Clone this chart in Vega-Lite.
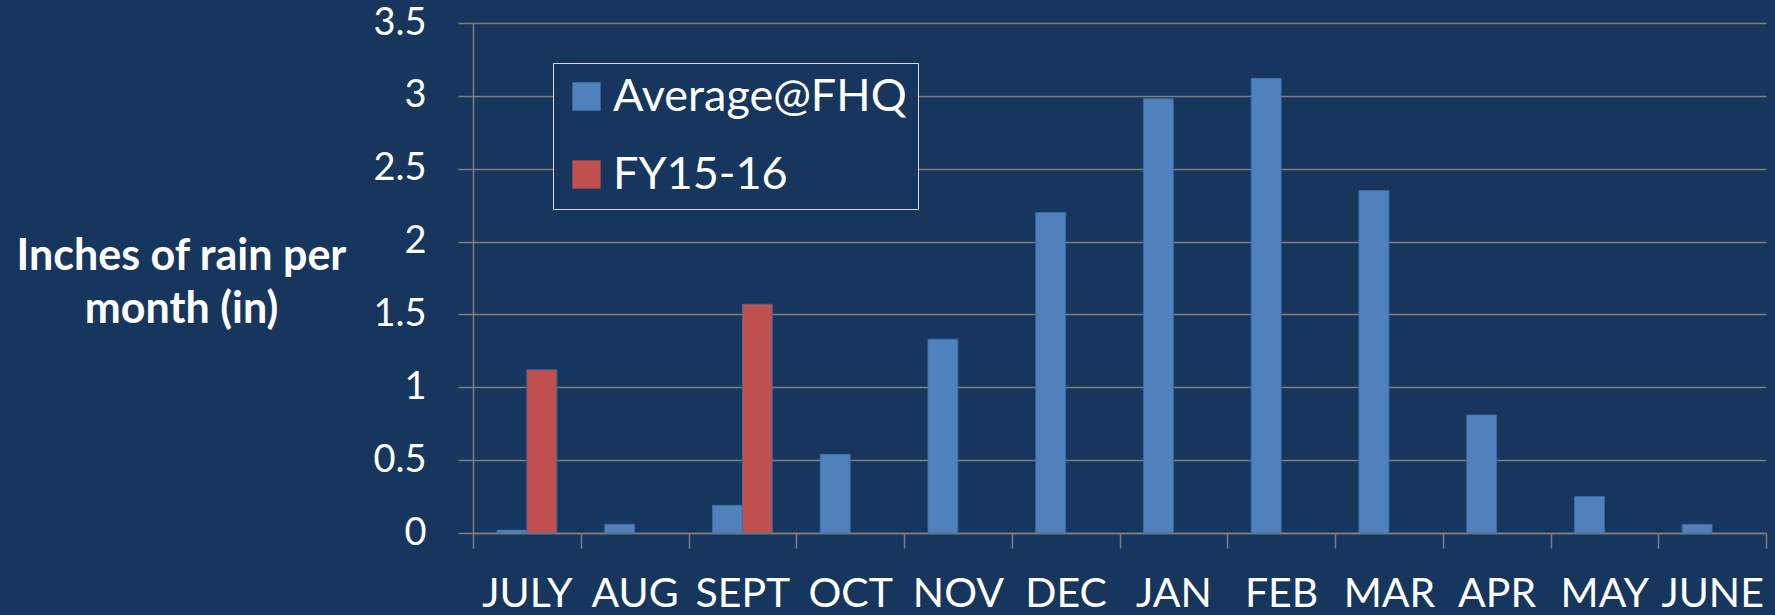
{
  "$schema": "https://vega.github.io/schema/vega-lite/v6.json",
  "width": 1293,
  "height": 510,
  "autosize": {"type": "none"},
  "padding": {"left": 473, "top": 23, "right": 9, "bottom": 82},
  "background": "#17365D",
  "config": {
    "view": {"stroke": null},
    "font": "Lato"
  },
  "data": {
    "values": [
      {"month": "JULY", "series": "Average@FHQ", "inches": 0.02},
      {"month": "JULY", "series": "FY15-16", "inches": 1.12},
      {"month": "AUG", "series": "Average@FHQ", "inches": 0.06},
      {"month": "SEPT", "series": "Average@FHQ", "inches": 0.19},
      {"month": "SEPT", "series": "FY15-16", "inches": 1.57},
      {"month": "OCT", "series": "Average@FHQ", "inches": 0.54},
      {"month": "NOV", "series": "Average@FHQ", "inches": 1.33},
      {"month": "DEC", "series": "Average@FHQ", "inches": 2.2},
      {"month": "JAN", "series": "Average@FHQ", "inches": 2.98},
      {"month": "FEB", "series": "Average@FHQ", "inches": 3.12},
      {"month": "MAR", "series": "Average@FHQ", "inches": 2.35},
      {"month": "APR", "series": "Average@FHQ", "inches": 0.81},
      {"month": "MAY", "series": "Average@FHQ", "inches": 0.25},
      {"month": "JUNE", "series": "Average@FHQ", "inches": 0.06}
    ]
  },
  "mark": {"type": "bar", "stroke": "#3F6FA8", "strokeWidth": 0.8},
  "encoding": {
    "x": {
      "field": "month",
      "type": "nominal",
      "sort": ["JULY", "AUG", "SEPT", "OCT", "NOV", "DEC", "JAN", "FEB", "MAR", "APR", "MAY", "JUNE"],
      "scale": {"paddingInner": 0, "paddingOuter": 0},
      "axis": {
        "title": null,
        "labelAngle": 0,
        "labelColor": "#FFFFFF",
        "labelFontSize": 41,
        "labelPadding": 26,
        "tickBand": "extent",
        "tickSize": 15,
        "tickColor": "#7F7F7F",
        "tickWidth": 1.5,
        "domainColor": "#7F7F7F",
        "domainWidth": 1.5,
        "grid": false
      }
    },
    "xOffset": {
      "field": "series",
      "type": "nominal",
      "scale": {"domain": ["Average@FHQ", "FY15-16"], "paddingInner": 0, "paddingOuter": 0.8}
    },
    "y": {
      "field": "inches",
      "type": "quantitative",
      "scale": {"domain": [0, 3.5], "nice": false},
      "axis": {
        "values": [0, 0.5, 1, 1.5, 2, 2.5, 3, 3.5],
        "format": "~g",
        "labelColor": "#FFFFFF",
        "labelFontSize": 38,
        "labelPadding": 32,
        "tickSize": 15,
        "tickColor": "#7F7F7F",
        "tickWidth": 1.5,
        "domainColor": "#7F7F7F",
        "domainWidth": 1.5,
        "gridColor": "#7F7F7F",
        "gridWidth": 1.5,
        "title": ["Inches of rain per", "month (in)"],
        "titleAngle": 0,
        "titleAlign": "center",
        "titleBaseline": "alphabetic",
        "titleX": -292,
        "titleY": 246,
        "titleColor": "#FFFFFF",
        "titleFontSize": 43,
        "titleFontWeight": "bold",
        "titleLineHeight": 53
      }
    },
    "color": {
      "field": "series",
      "type": "nominal",
      "scale": {"domain": ["Average@FHQ", "FY15-16"], "range": ["#4F81BD", "#C0504D"]},
      "legend": {
        "title": null,
        "orient": "none",
        "legendX": 80,
        "legendY": 40,
        "direction": "vertical",
        "fillColor": "#17365D",
        "strokeColor": "#D9D9D9",
        "padding": 11,
        "symbolType": "square",
        "symbolSize": 800,
        "symbolStrokeWidth": 0,
        "labelColor": "#FFFFFF",
        "labelFontSize": 45,
        "labelOffset": 4,
        "labelLimit": 400,
        "rowPadding": 32,
        "encode": {"legend": {"update": {"strokeWidth": {"value": 1.5}}}}
      }
    }
  }
}
